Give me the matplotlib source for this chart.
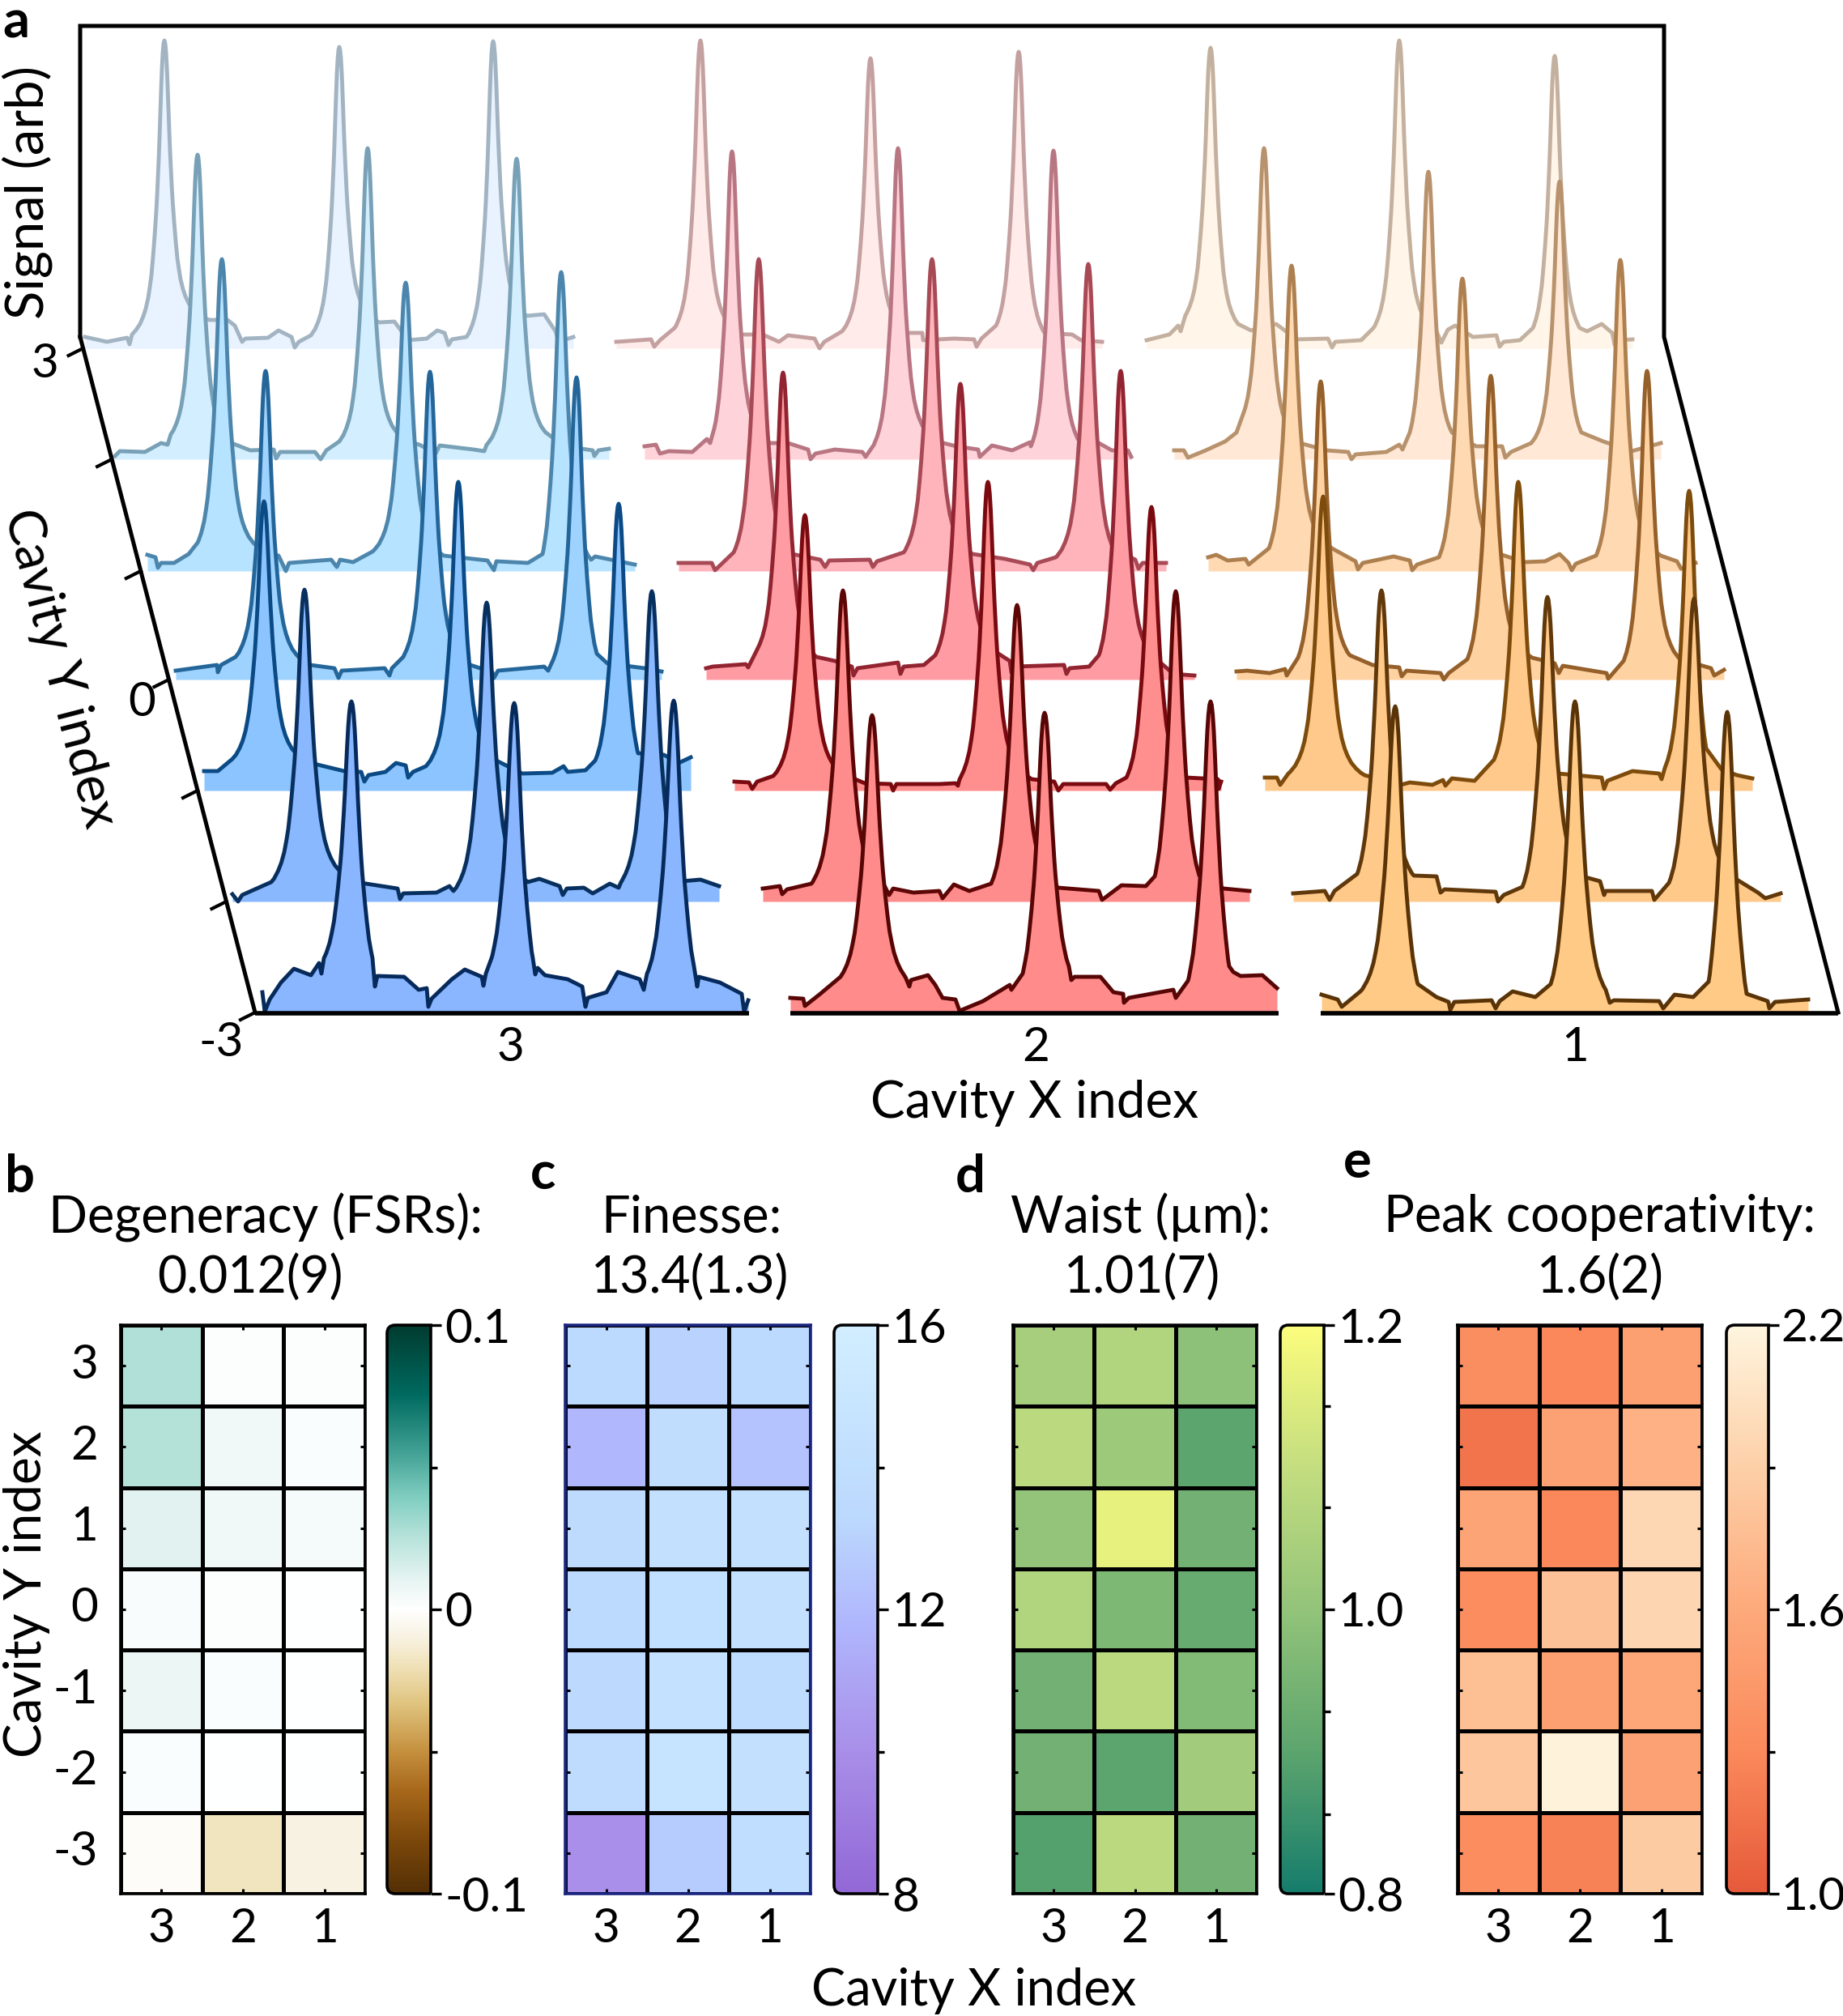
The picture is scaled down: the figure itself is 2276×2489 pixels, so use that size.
import numpy as np
import matplotlib
matplotlib.use('Agg')
import matplotlib.pyplot as plt
from matplotlib.colors import LinearSegmentedColormap
from matplotlib.patches import PathPatch
from matplotlib.path import Path
from matplotlib.transforms import ScaledTranslation

plt.rcParams['font.family'] = ['Lato', 'DejaVu Sans']

W, H = 2276, 2489

###################
# panel a data, rows go from y=3 (back) to y=-3 (front)
###################
row_base = [430, 567, 705, 839, 976, 1113, 1250]
row_width = [1.0, 1.0, 1.1, 1.1, 1.15, 1.25, 1.35]

blue_start = [103, 141, 182, 217, 252, 287, 324]
red_start = [761, 796, 838, 872, 907, 942, 976]
orange_start = [1416, 1450, 1492, 1527, 1562, 1597, 1632]

blue_peak_u = [[100, 316, 506], [103, 313, 497], [92, 319, 511], [111, 314, 495],
               [74, 314, 512], [89, 314, 518], [110, 311, 508]]
red_peak_u = [[104, 314, 497], [108, 313, 505], [99, 313, 506], [95, 314, 512],
              [87, 313, 515], [99, 314, 510], [101, 314, 519]]
orange_peak_u = [[79, 312, 504], [111, 314, 476], [103, 314, 509], [104, 314, 507],
                 [72, 313, 524], [109, 314, 495], [91, 313, 501]]

blue_peak_h = [[380, 372, 379], [376, 384, 371], [385, 356, 369], [381, 380, 373],
               [357, 381, 354], [385, 369, 383], [384, 382, 385]]
red_peak_h = [[380, 358, 366], [380, 384, 381], [385, 385, 379], [379, 365, 381],
              [340, 381, 350], [384, 366, 383], [367, 370, 384]]
orange_peak_h = [[371, 380, 361], [384, 355, 343], [377, 361, 384], [368, 375, 381],
                 [363, 381, 370], [384, 376, 374], [378, 384, 371]]

# shape of one resonance, read from the back row
peak_du = [0, 1, 2, 3, 4, 5, 6, 7, 8, 9, 10, 12, 14, 16, 18, 20, 23, 26, 30, 35, 40, 47, 55, 65]
peak_frac = [1, 0.99, 0.96, 0.91, 0.84, 0.76, 0.68, 0.61, 0.55, 0.49, 0.44, 0.36, 0.29, 0.23,
             0.19, 0.155, 0.12, 0.095, 0.07, 0.05, 0.035, 0.02, 0.012, 0.005]

# background of each trace between the peaks: (offset, height above row base)
blue_bg = [
    [(2,14),(29,8),(54,13),(57,5),(60,17),(156,35),(178,35),(187,28),(196,8),(200,12),(228,13),(241,22),(257,14),(261,1),(266,8),(281,16),
     (366,32),(384,33),(401,10),(424,12),(437,22),(446,19),(451,4),(455,11),(473,14),(547,40),(569,42),(583,21),(587,8),(605,14)],
    [(1,4),(7,10),(38,9),(58,20),(66,18),(70,31),(145,20),(168,11),(197,12),(200,1),(205,9),(248,9),(255,0),(262,11),(278,22),
     (377,18),(397,7),(402,17),(444,12),(457,10),(460,18),(533,33),(556,16),(591,11),(593,4),(598,11),(611,13)],
    [(0,20),(10,17),(13,4),(17,10),(33,10),(51,21),(62,35),(162,19),(171,0),(175,10),(227,14),(234,5),(238,14),(254,11),(278,24),
     (366,19),(420,13),(428,1),(431,12),(470,10),(488,21),(548,14),(553,18),(602,8)],
    [(0,11),(51,18),(52,9),(56,18),(74,28),(166,18),(196,14),(201,2),(205,11),(258,14),(264,5),(267,14),(281,28),
     (364,18),(391,9),(393,2),(398,11),(455,16),(460,11),(465,22),(520,32),(533,20),(579,14),(600,10)],
    [(0,24),(17,24),(35,39),(140,32),(173,24),(194,23),(198,11),(203,19),(224,23),(237,34),(249,31),(252,16),(258,23),(274,30),
     (361,37),(393,21),(430,22),(444,30),(449,23),(471,25),(483,37),(536,46),(568,44),(586,34),(601,41)],
    [(0,9),(7,0),(12,8),(48,24),(165,22),(204,16),(207,3),(211,10),(252,11),(268,19),(273,13),
     (365,24),(379,28),(404,19),(408,8),(413,16),(434,17),(445,10),(466,22),(477,17),(480,24),(555,25),(578,27),(601,19)],
    [(0,25),(3,1),(9,16),(23,37),(39,54),(60,46),(70,61),(73,48),(76,67),(136,67),(139,32),(142,45),(175,44),(193,28),(203,30),(205,7),(209,17),(234,41),(250,53),(271,44),(273,33),(276,48),(283,67),
     (334,67),(337,47),(340,55),(349,46),(377,41),(395,32),(399,7),(402,18),(425,25),(439,50),(466,41),(471,28),(475,48),(533,57),(537,32),(539,44),(565,37),(592,23),(595,1),(600,15)],
]
red_bg = [
    [(0,8),(43,11),(47,2),(54,10),(72,25),(156,17),(181,17),(201,8),(212,16),(245,12),(251,0),(257,8),(279,21),
     (360,19),(378,19),(379,10),(417,12),(442,11),(445,2),(451,12),(469,28),(529,19),(563,17),(574,10),(600,8)],
    [(0,16),(14,18),(19,7),(30,10),(59,9),(77,25),(81,20),(86,38),(155,20),(177,20),(202,12),(205,0),(211,7),(235,12),(269,9),(273,3),(282,16),
     (369,20),(385,16),(412,12),(414,3),(429,17),(454,11),(476,21),(477,16),(535,25),(561,20),(577,11),(597,11),(601,3)],
    [(0,10),(41,10),(45,1),(68,23),(140,21),(175,14),(181,5),(186,13),(236,14),(240,5),(245,12),(278,23),
     (363,21),(403,15),(434,8),(438,1),(443,10),(466,17),(537,28),(564,14),(568,3),(573,10),(602,10)],
    [(0,14),(8,16),(49,19),(52,15),(63,37),(136,28),(159,23),(180,16),(182,5),(187,14),(237,21),(240,7),(244,16),(269,18),(283,30),
     (361,32),(375,23),(377,9),(382,16),(442,18),(445,7),(449,14),(473,16),(485,30),(561,21),(577,7),(603,5)],
    [(0,11),(18,10),(22,2),(28,11),(48,18),(149,14),(161,9),(193,8),(196,0),(200,8),(253,8),(273,9),(276,6),(278,14),
     (367,14),(395,11),(400,0),(406,8),(459,8),(464,1),(471,9),(484,16),(558,16),(597,14),(598,2),(601,11)],
    [(0,16),(21,19),(24,9),(30,15),(60,22),(149,22),(156,8),(161,16),(186,11),(218,13),(222,4),(236,21),(255,13),(282,22),
     (365,17),(415,13),(419,2),(443,20),(473,19),(484,31),(539,32),(569,16),(601,13)],
    [(0,18),(16,17),(18,8),(37,23),(62,44),(142,44),(147,32),(149,40),(170,46),(179,34),(188,18),(204,16),(209,2),(238,14),(271,34),(273,28),(287,48),
     (344,57),(347,40),(351,44),(383,44),(399,25),(411,23),(412,12),(418,18),(473,28),(476,18),(491,39),(542,57),(547,50),(556,45),(583,46),(601,30)],
]
orange_bg = [
    [(0,10),(28,17),(39,28),(42,21),(48,41),(113,30),(129,22),(160,30),(185,11),(224,12),(229,1),(233,8),(265,10),(280,25),
     (358,21),(364,7),(372,23),(381,28),(403,14),(432,16),(436,2),(441,8),(461,10),(477,25),(535,25),(544,21),(562,30),(575,19),(578,4),(584,10),(600,11)],
    [(0,11),(12,11),(17,2),(39,11),(63,22),(77,33),(86,58),(159,19),(188,11),(215,9),(219,0),(224,6),(262,9),(278,18),(282,12),(291,33),
     (343,33),(373,16),(405,16),(409,2),(416,9),(441,20),(503,33),(530,22),(565,10),(601,20)],
    [(0,17),(10,20),(24,13),(46,15),(50,8),(75,28),(153,28),(182,12),(185,2),(191,10),(229,18),(249,13),(252,1),(258,8),(285,17),
     (363,20),(390,11),(416,12),(434,21),(445,10),(449,1),(454,9),(479,19),(559,19),(579,12),(584,3),(602,10)],
    [(0,10),(13,11),(41,8),(60,13),(62,5),(76,27),(140,30),(168,18),(201,15),(204,4),(210,11),(252,8),(256,0),(262,8),(285,25),
     (365,27),(393,20),(398,8),(403,17),(457,8),(459,1),(478,23),(548,25),(586,14),(590,5),(602,12)],
    [(0,16),(15,16),(19,7),(29,21),(123,19),(168,7),(179,10),(207,7),(220,13),(223,6),(231,15),(259,12),(283,38),
     (362,21),(416,16),(419,2),(423,12),(454,24),(487,21),(490,14),(494,28),(545,52),(564,26),(583,19),(602,15)],
    [(0,10),(39,13),(45,2),(51,13),(79,34),(149,32),(177,31),(182,11),(187,15),(250,12),(253,0),(260,8),(283,18),
     (361,30),(379,25),(384,8),(386,13),(443,13),(446,2),(464,23),(548,27),(574,11),(583,4),(602,10)],
    [(0,22),(20,16),(25,7),(48,26),(119,35),(142,19),(157,13),(159,3),(164,13),(210,15),(215,5),(220,14),(236,26),(264,19),(283,35),
     (351,28),(356,12),(361,15),(417,14),(422,5),(436,22),(459,19),(478,38),(525,23),(551,14),(553,5),(560,13),(601,16)],
]

blue_fill = ['#e8f3ff', '#d3efff', '#b6e3ff', '#9fd3ff', '#8cc4ff', '#89b8ff', '#8ab6ff']
blue_line = ['#a2b3c2', '#78a0b6', '#4d86ad', '#24669a', '#0b4a84', '#08305f', '#062a5c']
red_fill = ['#ffecea', '#ffd3da', '#ffb3bb', '#ff9ca3', '#ff8f8f', '#ff8c8c', '#ff8b8b']
red_line = ['#c4a0a0', '#b87682', '#a84a56', '#912430', '#7a0a10', '#5e0606', '#570505']
orange_fill = ['#fff5e9', '#ffe9d6', '#ffd9b2', '#ffd2a2', '#ffc98b', '#ffc98a', '#ffca86']
orange_line = ['#c4b09e', '#b8926c', '#ae8050', '#95602a', '#7d4c0c', '#60380a', '#5a3407']

###################
# panels b-e data, rows y=3..-3, columns x=3,2,1
###################
x_labels = ['3', '2', '1']
y_labels = ['3', '2', '1', '0', '-1', '-2', '-3']

degeneracy = [[0.027, 0.001, 0.001],
              [0.026, 0.006, 0.002],
              [0.012, 0.006, 0.004],
              [0.003, 0.001, 0.000],
              [0.008, 0.002, 0.000],
              [0.002, 0.000, 0.000],
              [-0.002, -0.018, -0.010]]
finesse = [[13.3, 13.0, 13.3],
           [11.8, 13.8, 12.3],
           [13.5, 14.2, 14.3],
           [13.3, 14.0, 14.2],
           [13.4, 14.4, 13.6],
           [13.7, 14.6, 14.2],
           [10.0, 12.7, 13.9]]
waist = [[1.04, 1.06, 0.99],
         [1.08, 1.02, 0.90],
         [1.00, 1.16, 0.94],
         [1.06, 0.96, 0.92],
         [0.94, 1.08, 0.97],
         [0.94, 0.90, 1.03],
         [0.89, 1.08, 0.94]]
cooperativity = [[1.34, 1.29, 1.50],
                 [1.16, 1.52, 1.66],
                 [1.54, 1.29, 1.96],
                 [1.33, 1.78, 1.95],
                 [1.76, 1.50, 1.57],
                 [1.82, 2.17, 1.52],
                 [1.33, 1.25, 1.86]]

cmap_deg = LinearSegmentedColormap.from_list('deg', [
    (0, '#543005'), (0.1, '#7f4a0c'), (0.18, '#a8681b'), (0.25, '#c5913f'), (0.33, '#dfc27d'),
    (0.4, '#f0e2b8'), (0.45, '#f8f2e2'), (0.5, '#ffffff'), (0.55, '#e8f5f3'), (0.63, '#b5e2da'),
    (0.7, '#7fcdc0'), (0.78, '#40a093'), (0.88, '#006a60'), (1, '#003c30')])
cmap_fin = LinearSegmentedColormap.from_list('fin', [
    (0, '#9268d6'), (0.25, '#a98fe9'), (0.47, '#b0b6fd'), (0.66, '#bcd9fe'), (0.8, '#c4e2ff'), (1, '#d2eeff')])
cmap_wst = LinearSegmentedColormap.from_list('wst', [
    (0, '#167d6c'), (0.25, '#5da56e'), (0.5, '#93c47a'), (0.75, '#c4de80'), (1, '#fcfd7d')])
cmap_coo = LinearSegmentedColormap.from_list('coo', [
    (0, '#e65a3a'), (0.25, '#fb8a5c'), (0.5, '#fdaa7c'), (0.75, '#fdd0a8'), (1, '#fff5df')])


def px_axes(x0, y0, x1, y1):
    return fig.add_axes([x0/W, 1-y1/H, (x1-x0)/W, (y1-y0)/H])


def foot_frac(dist, w):
    # how far up the peak shape the foot knot already is
    return np.interp(dist/w, peak_du, peak_frac)


def trace_xy(knots, peak_u, peak_h, w):
    pts = [knots[0]]
    for a, b in zip(knots[:-1], knots[1:]):
        for p, top in zip(peak_u, peak_h):
            if a[0] < p < b[0]:
                fa = foot_frac(p-a[0], w)
                for du, f in zip(peak_du[::-1], peak_frac[::-1]):
                    if p-du*w > a[0] and du > 0:
                        pts.append((p-du*w, a[1]+(f-fa)/(1-fa)*(top-a[1])))
                pts.append((p, top))
                fb = foot_frac(b[0]-p, w)
                for du, f in zip(peak_du[1:], peak_frac[1:]):
                    if p+du*w < b[0]:
                        pts.append((p+du*w, b[1]+(f-fb)/(1-fb)*(top-b[1])))
        pts.append(b)
    return np.array(pts, dtype=float)


fig = plt.figure(figsize=(W/100, H/100), dpi=100)
ax = fig.add_axes([0, 0, 1, 1])
ax.set_xlim(0, W)
ax.set_ylim(H, 0)
ax.axis('off')

columns = [(blue_start, blue_bg, blue_peak_u, blue_peak_h, blue_fill, blue_line),
           (red_start, red_bg, red_peak_u, red_peak_h, red_fill, red_line),
           (orange_start, orange_bg, orange_peak_u, orange_peak_h, orange_fill, orange_line)]

z = 2
for r in range(7):
    base = row_base[r]
    for start, bg, pu, ph, fc, lc in columns:
        xy = trace_xy(bg[r], pu[r], ph[r], row_width[r])
        xs = start[r]+xy[:, 0]
        ys = base-xy[:, 1]
        ax.fill_between(xs, ys, base, color=fc[r], lw=0, zorder=z)
        ax.plot(xs, ys, color=lc[r], lw=3.5, solid_joinstyle='round', zorder=z+0.5)
        z += 1

# frame of the stacked plot
frame = dict(color='k', lw=3.6, zorder=100, solid_capstyle='projecting', solid_joinstyle='miter')
ax.plot([99, 99, 2055, 2055, 2270], [416, 32, 32, 416, 1250], **frame)
ax.plot([99, 315], [416, 1250], **frame)
for x0, x1 in [(315, 925), (976, 1579), (1631, 2270)]:
    ax.plot([x0, x1], [1251, 1251], color='k', lw=4, zorder=100, solid_capstyle='butt')
for yb in row_base:
    xt = 99+(yb-416)*216/834
    ax.plot([xt, xt-18], [yb, yb+9], color='k', lw=3, zorder=100)

ax.text(55, 450, '3', fontsize=42, ha='center', va='center')
ax.text(175, 867, '0', fontsize=42, ha='center', va='center')
ax.text(273, 1287, '-3', fontsize=42, ha='center', va='center')
ax.text(630, 1293, '3', fontsize=42, ha='center', va='center')
ax.text(1279, 1293, '2', fontsize=42, ha='center', va='center')
ax.text(1945, 1293, '1', fontsize=42, ha='center', va='center')
ax.text(1278, 1362, 'Cavity X index', fontsize=46, ha='center', va='center')
ax.text(34, 238, 'Signal (arb)', fontsize=47, rotation=90, ha='center', va='center')
ax.text(74, 825, 'Cavity Y index', fontsize=46, rotation=-75.5, ha='center', va='center')

for s, x, y in [('a', 20, 28), ('b', 25, 1454), ('c', 671, 1450), ('d', 1198, 1454), ('e', 1676, 1435)]:
    ax.text(x, y, s, fontsize=47, fontweight='bold', ha='center', va='center')

ax.text(33, 1968, 'Cavity Y index', fontsize=46, rotation=90, ha='center', va='center')
ax.text(1203, 2458, 'Cavity X index', fontsize=45.5, ha='center', va='center')

panels = [
    (degeneracy, cmap_deg, -0.1, 0.1, 149, 451, 478, 532, 328, 309, ['Degeneracy (FSRs):', '0.012(9)'],
     [-0.1, 0, 0.1], ['-0.1', '0', '0.1'], [-0.05, 0.05], 'k'),
    (finesse, cmap_fin, 8, 16, 698, 1001, 1030, 1084, 854, 852, ['Finesse:', '13.4(1.3)'],
     [8, 12, 16], ['8', '12', '16'], [10, 14], '#1a2580'),
    (waist, cmap_wst, 0.8, 1.2, 1251, 1552, 1581, 1635, 1409, 1411, ['Waist (µm):', '1.01(7)'],
     [0.8, 1.0, 1.2], ['0.8', '1.0', '1.2'], [0.856, 0.928, 1.072, 1.143], 'k'),
    (cooperativity, cmap_coo, 1.0, 2.2, 1800, 2102, 2132, 2184, 1976, 1976, ['Peak cooperativity:', '1.6(2)'],
     [1.0, 1.6, 2.2], ['1.0', '1.6', '2.2'], [1.3, 1.9], 'k'),
]

top, bottom = 1636, 2338
for i, (vals, cmap, vmin, vmax, x0, x1, c0, c1, xc, xc2, title, ct, ctl, cm, fcol) in enumerate(panels):
    a = px_axes(x0, top, x1, bottom)
    a.pcolormesh(np.arange(4), np.arange(8), np.array(vals), cmap=cmap, vmin=vmin, vmax=vmax,
                 edgecolors='k', linewidth=2.5)
    a.set_xlim(0, 3)
    a.set_ylim(7, 0)
    a.set_xticks(np.arange(3)+0.5)
    a.set_xticklabels(x_labels)
    a.set_yticks(np.arange(7)+0.5)
    if i == 0:
        a.set_yticklabels(y_labels)
    else:
        a.set_yticklabels([])
    a.tick_params(direction='in', length=4.5, width=2.2, top=True, right=True,
                  labelsize=42, pad=12)
    a.tick_params(axis='y', pad=20)
    # y labels sit a little higher than the cell centres
    for lab in a.get_yticklabels():
        lab.set_transform(lab.get_transform()+ScaledTranslation(0, 6/100, fig.dpi_scale_trans))
    for sp in a.spines.values():
        sp.set_linewidth(2.6)
        sp.set_color(fcol)
        sp.set_zorder(5)

    ax.text(xc, 1503, title[0], fontsize=45.5, ha='center', va='center')
    ax.text(xc2, 1578, title[1], fontsize=45, ha='center', va='center')

    # colour bar with rounded left corners
    c = px_axes(c0, top, c1, bottom)
    im = c.imshow(np.linspace(vmax, vmin, 256)[:, None], cmap=cmap, vmin=vmin, vmax=vmax,
                  aspect='auto', extent=(0, 1, vmin, vmax))
    rx, ry = 10/(c1-c0), 10/(bottom-top)
    verts = [(1, 0), (rx, 0), (0, 0), (0, ry), (0, 1-ry), (0, 1), (rx, 1), (1, 1), (1, 0)]
    codes = [Path.MOVETO, Path.LINETO, Path.CURVE3, Path.CURVE3, Path.LINETO, Path.CURVE3, Path.CURVE3, Path.LINETO, Path.LINETO]
    outline = PathPatch(Path(verts, codes), transform=c.transAxes, fc='none', ec='k', lw=2.6, clip_on=False, zorder=5)
    c.add_patch(outline)
    im.set_clip_path(outline)
    for sp in c.spines.values():
        sp.set_visible(False)
    c.set_xticks([])
    c.yaxis.tick_right()
    c.set_yticks(ct)
    c.set_yticklabels(ctl)
    c.set_yticks(cm, minor=True)
    c.tick_params(axis='y', which='major', direction='out', length=9.5, width=2.4,
                  labelsize=41 if i == 3 else 42, pad=1.5 if i == 3 else 3)
    c.tick_params(axis='y', which='minor', direction='out', length=5.5, width=2.4)

fig.savefig('out.png', dpi=100)
